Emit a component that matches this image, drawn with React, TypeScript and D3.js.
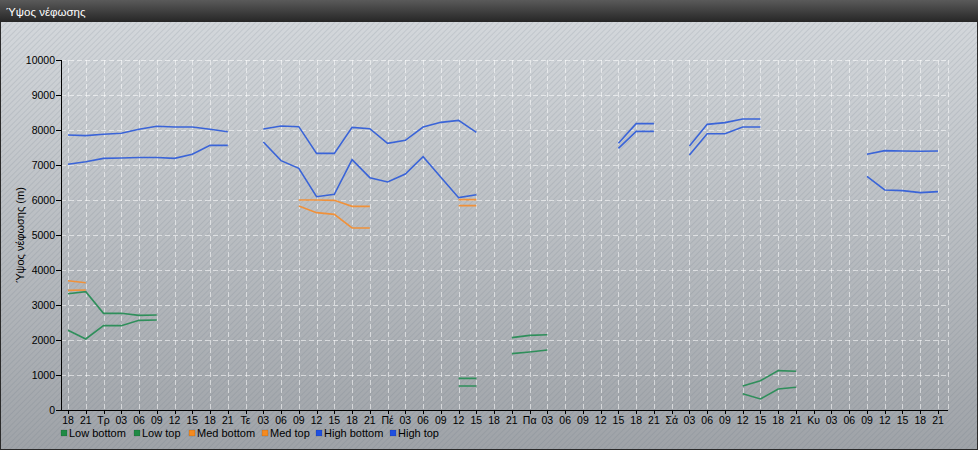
import React from "react";
import * as d3 from "d3";

const tickLabels = [
  "18", "21",
  "Τρ", "03", "06", "09", "12", "15", "18", "21",
  "Τε", "03", "06", "09", "12", "15", "18", "21",
  "Πέ", "03", "06", "09", "12", "15", "18", "21",
  "Πα", "03", "06", "09", "12", "15", "18", "21",
  "Σά", "03", "06", "09", "12", "15", "18", "21",
  "Κυ", "03", "06", "09", "12", "15", "18", "21",
];

const N = null;
// 50 points each (3-hourly), null = gap
const lowBottom = [
  2276, 2029, 2410, 2410, 2562, 2571, N, N, N, N,
  N, N, N, N, N, N, N, N, N, N,
  N, N, 686, 686, N, 1610, 1657, 1714, N, N,
  N, N, N, N, N, N, N, N, 467, 314,
  600, 648, N, N, N, N, N, N, N, N,
];
const lowTop = [
  3320, 3380, 2762, 2762, 2705, 2714, N, N, N, N,
  N, N, N, N, N, N, N, N, N, N,
  N, N, 905, 905, N, 2067, 2133, 2152, N, N,
  N, N, N, N, N, N, N, N, 686, 838,
  1124, 1105, N, N, N, N, N, N, N, N,
];
const medBottom = [
  3419, 3429, N, N, N, N, N, N, N, N,
  N, N, N, 5829, 5638, 5590, 5200, 5200, N, N,
  N, N, 5838, 5838, N, N, N, N, N, N,
  N, N, N, N, N, N, N, N, N, N,
  N, N, N, N, N, N, N, N, N, N,
];
const medTop = [
  3695, 3638, N, N, N, N, N, N, N, N,
  N, N, N, 6000, 6000, 5990, 5819, 5819, N, N,
  N, N, 6010, 6010, N, N, N, N, N, N,
  N, N, N, N, N, N, N, N, N, N,
  N, N, N, N, N, N, N, N, N, N,
];
const highBottom = [
  7020, 7095, 7190, 7200, 7215, 7215, 7190, 7305, 7560, 7560,
  N, 7657, 7124, 6905, 6095, 6162, 7152, 6638, 6514, 6743,
  7238, 6648, 6067, 6152, N, N, N, N, N, N,
  N, 7476, 7962, 7962, N, 7286, 7895, 7895, 8086, 8086,
  N, N, N, N, N, 6676, 6286, 6267, 6210, 6238,
];
const highTop = [
  7857, 7840, 7877, 7905, 8020, 8105, 8085, 8085, 8020, 7950,
  N, 8029, 8114, 8095, 7333, 7333, 8076, 8038, 7619, 7705,
  8086, 8219, 8276, 7933, N, N, N, N, N, N,
  N, 7619, 8181, 8181, N, 7543, 8162, 8210, 8314, 8314,
  N, N, N, N, N, 7305, 7410, 7400, 7395, 7400,
];

const yTicks = [0, 1000, 2000, 3000, 4000, 5000, 6000, 7000, 8000, 9000, 10000];

const seriesNames = ["Low bottom", "Low top", "Med bottom", "Med top", "High bottom", "High top"];

const GREEN = "#2f8f5b";
const ORANGE = "#f0913a";
const BLUE = "#3a64d8";

export default function App() {
  const W = 978;
  const H = 450;
  const left = 61;
  const right = 948;
  const top = 60;
  const bottom = 410;

  const x = d3.scaleLinear().domain([0, tickLabels.length - 1]).range([68, 938]);
  const y = d3.scaleLinear().domain([0, 10000]).range([bottom, top]);

  const line = d3
    .line<number | null>()
    .defined((d) => d !== null)
    .x((_, i) => x(i))
    .y((d) => y(d as number));

  const series = [
    { data: lowBottom, color: GREEN },
    { data: lowTop, color: GREEN },
    { data: medBottom, color: ORANGE },
    { data: medTop, color: ORANGE },
    { data: highBottom, color: BLUE },
    { data: highTop, color: BLUE },
  ];
  const legendColors = ["#1f8a45", "#1f8a45", "#f58a1f", "#f58a1f", "#1f4fe0", "#1f4fe0"];
  const legendX = [61, 134, 189, 262, 316, 390];

  const font = "Arial, 'Liberation Sans', sans-serif";

  return (
    <div style={{ position: "absolute", left: 0, top: 0, width: W, height: H }}>
      <svg width={W} height={H} style={{ display: "block" }} fontFamily={font}>
        <defs>
          <linearGradient id="bodyGrad" x1="0" y1="0" x2="0" y2="1">
            <stop offset="0" stopColor="#d3d7db" />
            <stop offset="1" stopColor="#9fa3a8" />
          </linearGradient>
          <linearGradient id="titleGrad" x1="0" y1="0" x2="0" y2="1">
            <stop offset="0" stopColor="#5a5a5a" />
            <stop offset="1" stopColor="#262626" />
          </linearGradient>
          <pattern id="stripes" width="4" height="4" patternUnits="userSpaceOnUse" patternTransform="rotate(45)">
            <rect width="4" height="4" fill="rgba(255,255,255,0)" />
            <line x1="0" y1="0" x2="0" y2="4" stroke="rgba(90,100,115,0.18)" strokeWidth="1.5" />
          </pattern>
        </defs>
        <rect x={0} y={0} width={W} height={H} fill="#2a2a2a" />
        <rect x={1} y={22} width={W - 2} height={H - 23} fill="url(#bodyGrad)" />
        <rect x={1} y={22} width={W - 2} height={H - 23} fill="url(#stripes)" />
        <rect x={0} y={0} width={W} height={22} fill="url(#titleGrad)" />
        <text x={6} y={16} fill="#ffffff" fontSize={11.5}>
          Ύψος νέφωσης
        </text>

        {/* grid */}
        <g stroke="rgba(255,255,255,0.55)" strokeWidth={1} strokeDasharray="5,3">
          {yTicks.map((t) => (
            <line key={"h" + t} x1={left} x2={right} y1={Math.round(y(t)) + 0.5} y2={Math.round(y(t)) + 0.5} />
          ))}
          {tickLabels.map((_, i) => (
            <line key={"v" + i} x1={Math.round(x(i)) + 0.5} x2={Math.round(x(i)) + 0.5} y1={top} y2={bottom} />
          ))}
          <line x1={right + 0.5} x2={right + 0.5} y1={top} y2={bottom} />
        </g>

        {/* series */}
        {series.map((s, k) => (
          <path key={k} d={line(s.data) || ""} fill="none" stroke={s.color} strokeWidth={1.6} />
        ))}

        {/* axes */}
        <g stroke="#000" strokeWidth={1}>
          <line x1={left + 0.5} x2={left + 0.5} y1={top} y2={bottom + 0.5} />
          <line x1={left} x2={right} y1={bottom + 0.5} y2={bottom + 0.5} />
          {yTicks.map((t) => (
            <line key={"yt" + t} x1={left - 5} x2={left} y1={Math.round(y(t)) + 0.5} y2={Math.round(y(t)) + 0.5} />
          ))}
          {tickLabels.map((_, i) => (
            <line key={"xt" + i} x1={Math.round(x(i)) + 0.5} x2={Math.round(x(i)) + 0.5} y1={bottom} y2={bottom + 4} />
          ))}
        </g>
        <g fontSize={10.5} fill="#000">
          {yTicks.map((t) => (
            <text key={"yl" + t} x={left - 6} y={y(t) + 4} textAnchor="end">
              {t}
            </text>
          ))}
          {tickLabels.map((l, i) => (
            <text key={"xl" + i} x={x(i)} y={bottom + 14} textAnchor="middle">
              {l}
            </text>
          ))}
        </g>
        <text
          transform={`translate(24,${(top + bottom) / 2}) rotate(-90)`}
          textAnchor="middle"
          fontSize={11}
          fill="#000"
        >
          Ύψος νέφωσης (m)
        </text>

        {/* legend */}
        <g fontSize={11} fill="#000">
          {seriesNames.map((n, k) => (
            <g key={n}>
              <rect x={legendX[k]} y={430} width={6} height={6} fill={legendColors[k]} stroke="rgba(0,0,0,0.25)" strokeWidth={0.5} />
              <text x={legendX[k] + 8} y={437}>
                {n}
              </text>
            </g>
          ))}
        </g>
      </svg>
    </div>
  );
}
